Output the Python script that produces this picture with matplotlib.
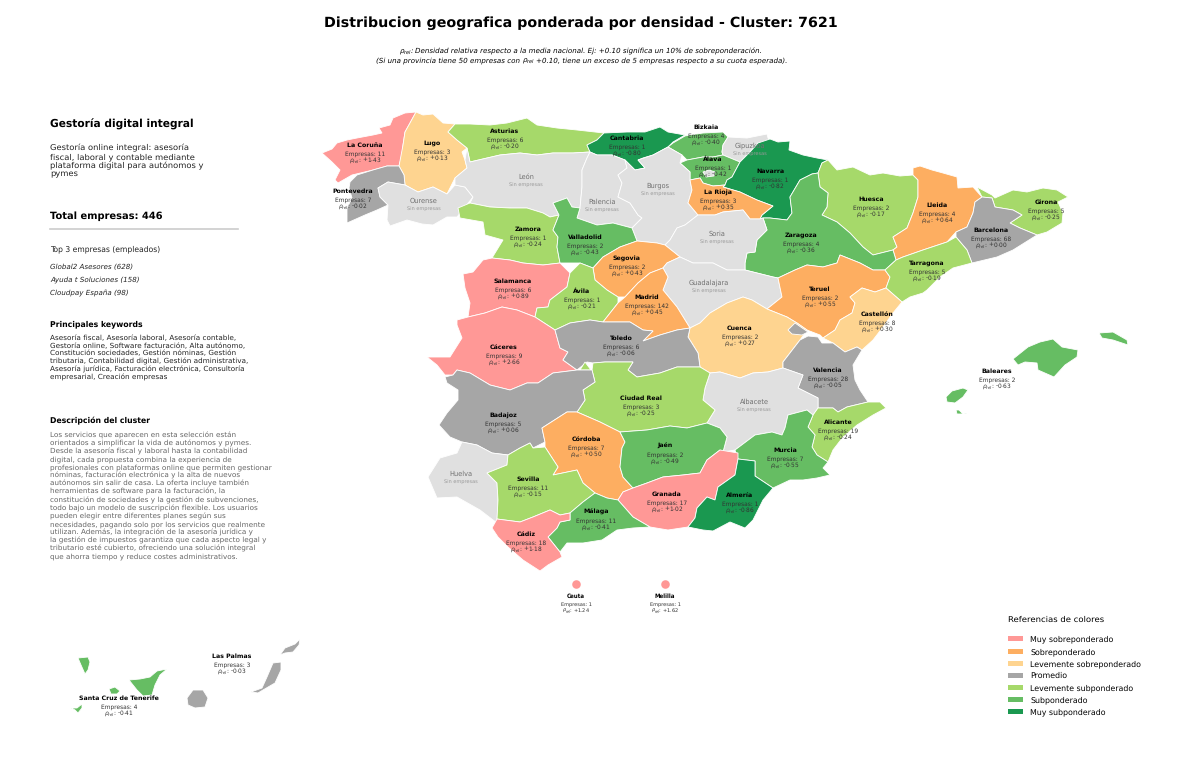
#!/usr/bin/env python3
"""Distribucion geografica ponderada por densidad, cluster 7621."""

import matplotlib
matplotlib.use('Agg')
import matplotlib.pyplot as plt
from matplotlib.patches import Patch, Polygon

plt.rcParams['text.hinting'] = 'no_hinting'

PROVINCES = ['La Coruña', 'Lugo', 'Asturias', 'Cantabria', 'Bizkaia', 'Gipuzkoa', 'Álava', 'Navarra',
             'Pontevedra', 'Ourense', 'León', 'Palencia', 'Burgos', 'La Rioja', 'Huesca', 'Lleida',
             'Girona', 'Barcelona', 'Zaragoza', 'Soria', 'Zamora', 'Valladolid', 'Segovia', 'Guadalajara',
             'Salamanca', 'Ávila', 'Madrid', 'Teruel', 'Tarragona', 'Castellón', 'Cuenca', 'Cáceres',
             'Toledo', 'Valencia', 'Baleares', 'Albacete', 'Alicante', 'Ciudad Real', 'Badajoz', 'Córdoba',
             'Jaén', 'Murcia', 'Huelva', 'Sevilla', 'Granada', 'Almería', 'Málaga', 'Cádiz',
             'Las Palmas', 'Santa Cruz de Tenerife', 'Ceuta', 'Melilla']

# None means no companies in that province
EMPRESAS = [11, 3, 6, 1, 4, None, 1, 1,
            7, None, None, None, None, 3, 2, 4,
            5, 68, 4, None, 1, 2, 2, None,
            6, 1, 142, 2, 5, 8, 2, 9,
            6, 28, 2, None, 19, 3, 5, 7,
            2, 7, None, 11, 17, 1, 11, 18,
            3, 4, 1, 1]

RHO = [1.43, 0.13, -0.20, -0.80, -0.40, None, -0.42, -0.82,
       -0.02, None, None, None, None, 0.35, -0.17, 0.64,
       -0.25, 0.00, -0.36, None, -0.24, -0.43, 0.43, None,
       0.89, -0.21, 0.45, 0.55, -0.19, 0.30, 0.27, 2.66,
       -0.06, -0.05, -0.63, None, -0.24, -0.25, 0.06, 0.50,
       -0.49, -0.55, None, -0.15, 1.02, -0.86, -0.41, 1.18,
       -0.03, -0.41, 1.24, 1.62]

CATEGORIES = ['Muy sobreponderado', 'Sobreponderado', 'Levemente sobreponderado', 'Promedio',
              'Levemente subponderado', 'Subponderado', 'Muy subponderado']
COLORS = ['#ff9896', '#fdae61', '#fed490', '#a6a6a6', '#a6d96a', '#66bd63', '#1a9850']
NO_DATA = '#e0e0e0'

# province outlines, in image pixels
OUTLINES = {
    'La Coruña': [[(322,153),(332,149),(337,143),(347,140),(357,138),(373,135),(382,133),(379,128),(390,125),(393,118),(405,113),(416,112),(410,123),(405,132),(403,145),(402,155),(399,166),(387,166),(373,170),(352,175),(338,183),(335,180),(340,170),(332,162)]],
    'Lugo': [[(416,112),(423,115),(433,114),(443,123),(455,124),(448,132),(457,140),(467,148),(462,152),(465,160),(467,168),(455,178),(447,194),(433,187),(418,192),(405,185),(404,175),(399,166),(403,145),(405,132),(410,123)]],
    'Asturias': [[(448,132),(455,124),(470,124),(490,125),(507,123),(527,118),(537,125),(557,128),(577,130),(604,133),(597,140),(587,145),(590,152),(573,153),(553,153),(537,155),(520,153),(500,155),(470,162),(467,148),(457,140)]],
    'Cantabria': [[(604,133),(627,132),(645,132),(660,127),(668,132),(685,135),(673,142),(668,147),(653,155),(643,158),(638,160),(645,168),(635,170),(625,160),(612,155),(597,155),(590,152),(587,145),(597,140)]],
    'León': [[(470,162),(500,155),(520,153),(537,155),(553,153),(573,153),(590,152),(587,158),(582,170),(582,187),(580,208),(572,207),(567,198),(553,203),(559,215),(550,217),(543,213),(527,208),(510,208),(490,207),(470,203),(473,197),(465,187),(455,185),(455,178),(467,168),(465,160),(467,148)]],
    'Ourense': [[(378,188),(388,182),(405,185),(418,192),(433,187),(447,194),(455,185),(465,187),(473,197),(465,207),(457,217),(447,217),(433,225),(422,224),(407,220),(390,226),(387,220),(388,205),(380,197)]],
    'Pontevedra': [[(350,182),(357,175),(373,170),(387,166),(399,166),(404,175),(405,185),(388,182),(378,188),(380,197),(388,205),(377,210),(365,215),(347,223),(347,208),(352,198),(349,188)]],
    'Palencia': [[(590,152),(597,155),(612,155),(625,160),(627,168),(618,175),(622,183),(618,197),(630,203),(638,215),(642,218),(632,228),(613,223),(597,225),(577,218),(580,208),(582,187),(582,170),(587,158)]],
    'Burgos': [[(625,160),(635,170),(645,168),(638,160),(653,155),(668,147),(682,155),(680,163),(690,172),(690,180),(692,190),(688,203),(698,215),(685,225),(677,228),(670,240),(665,245),(657,243),(637,241),(632,228),(642,218),(638,215),(630,203),(618,197),(622,183),(618,175),(627,168)],
               [(703,172),(709,170),(715,172),(714,176),(706,177)]],
    'Valladolid': [[(553,203),(567,198),(572,207),(580,208),(577,218),(597,225),(613,223),(632,228),(637,241),(620,247),(603,257),(593,268),(580,263),(560,263),(557,247),(558,237),(553,230),(559,215)]],
    'Zamora': [[(458,208),(470,203),(490,207),(510,208),(527,208),(543,213),(550,217),(559,215),(553,230),(558,237),(557,247),(560,263),(543,265),(523,263),(510,260),(492,258),(503,240),(485,235),(483,222),(460,218)]],
    'Salamanca': [[(463,274),(473,272),(483,260),(492,258),(510,260),(523,263),(543,265),(560,263),(570,273),(567,287),(550,300),(548,307),(537,308),(535,317),(517,310),(502,307),(485,313),(468,317),(470,303),(465,288)]],
    'Ávila': [[(570,273),(580,263),(593,268),(595,280),(607,290),(618,297),(618,303),(603,322),(590,320),(570,323),(555,330),(535,317),(537,308),(548,307),(550,300),(567,287)]],
    'Segovia': [[(593,268),(603,257),(620,247),(637,241),(657,243),(665,245),(680,257),(667,263),(663,268),(650,273),(638,283),(625,297),(618,297),(607,290),(595,280)]],
    'Madrid': [[(663,268),(668,277),(663,290),(677,307),(690,328),(677,330),(660,335),(643,341),(653,331),(643,330),(630,322),(603,322),(618,303),(625,297),(638,283),(650,273)]],
    'Guadalajara': [[(667,263),(680,257),(693,263),(713,263),(727,270),(745,270),(773,277),(778,278),(782,297),(767,309),(752,300),(743,297),(727,303),(710,313),(700,323),(690,328),(677,307),(663,290),(668,277),(663,268)]],
    'Soria': [[(698,215),(715,215),(723,212),(743,210),(750,219),(760,219),(763,218),(767,230),(757,240),(755,252),(747,253),(745,263),(745,270),(727,270),(713,263),(693,263),(680,257),(665,245),(670,240),(677,228),(685,225)]],
    'La Rioja': [[(690,180),(700,178),(703,183),(713,186),(725,185),(723,187),(740,192),(757,200),(773,206),(762,215),(760,219),(750,219),(743,210),(723,212),(715,215),(698,215),(688,203),(692,190)]],
    'Álava': [[(680,163),(687,160),(703,157),(713,157),(723,155),(740,162),(732,177),(727,180),(725,185),(713,186),(703,183),(700,178),(690,180),(690,172)]],
    'Bizkaia': [[(673,143),(685,136),(690,135),(703,133),(723,132),(728,137),(723,145),(722,152),(723,155),(713,157),(703,157),(687,160),(682,155),(668,147)]],
    'Gipuzkoa': [[(728,137),(747,138),(767,134),(768,138),(772,142),(758,143),(750,152),(740,162),(723,155),(722,152),(723,145)]],
    'Navarra': [[(758,143),(770,139),(778,142),(790,141),(789,150),(803,155),(817,158),(828,160),(822,163),(818,173),(812,174),(800,180),(790,197),(792,213),(787,220),(770,218),(763,218),(760,219),(762,215),(773,206),(757,200),(740,192),(723,187),(725,185),(727,180),(732,177),(740,162),(750,152)]],
    'Zaragoza': [[(812,174),(818,173),(820,187),(828,193),(827,207),(822,215),(837,222),(850,233),(863,247),(873,255),(893,250),(896,260),(885,270),(873,270),(860,263),(840,255),(837,263),(823,267),(807,265),(795,270),(778,278),(773,277),(745,270),(745,263),(747,253),(755,252),(757,240),(767,230),(763,218),(770,218),(787,220),(792,213),(790,197),(800,180)]],
    'Huesca': [[(828,160),(837,170),(853,167),(870,175),(883,173),(900,176),(913,175),(918,180),(918,197),(913,213),(907,228),(893,237),(897,247),(893,250),(873,255),(863,247),(850,233),(837,222),(822,215),(827,207),(828,193),(820,187),(818,173),(822,163)]],
    'Lleida': [[(913,168),(920,166),(932,170),(943,173),(957,177),(958,188),(973,187),(982,197),(975,202),(973,213),(967,227),(956,232),(947,242),(923,250),(903,257),(896,260),(893,250),(897,247),(893,237),(907,228),(913,213),(918,197),(918,180),(913,175)]],
    'Girona': [[(977,187),(992,195),(995,198),(1013,190),(1027,192),(1043,188),(1057,190),(1068,197),(1058,202),(1063,213),(1062,223),(1047,232),(1037,235),(1020,228),(1010,223),(1022,215),(1013,210),(995,207),(992,198),(982,197)]],
    'Barcelona': [[(975,202),(982,197),(992,198),(995,207),(1013,210),(1022,215),(1010,223),(1020,228),(1037,235),(1013,250),(997,257),(972,263),(967,250),(956,237),(956,232),(967,227),(973,213)]],
    'Tarragona': [[(947,242),(956,237),(967,250),(972,263),(953,268),(940,277),(927,290),(923,293),(910,297),(902,302),(886,288),(890,277),(885,270),(896,260),(903,257),(923,250)]],
    'Teruel': [[(778,278),(795,270),(807,265),(823,267),(837,263),(840,255),(860,263),(873,270),(885,270),(890,277),(886,288),(875,292),(862,288),(850,297),(855,303),(852,313),(840,320),(835,330),(823,338),(820,335),(807,330),(797,323),(787,317),(767,309),(782,297)]],
    'Castellón': [[(862,288),(875,292),(886,288),(902,302),(893,313),(883,327),(873,340),(862,350),(857,347),(845,352),(833,343),(823,338),(835,330),(840,320),(852,313),(855,303),(850,297)]],
    'Cuenca': [[(690,328),(700,323),(710,313),(727,303),(743,297),(752,300),(767,309),(787,317),(797,323),(807,330),(800,340),(783,362),(783,368),(768,372),(753,373),(740,378),(720,372),(710,373),(700,367),(698,353),(688,337)]],
    'Toledo': [[(555,330),(570,323),(590,320),(603,322),(630,322),(643,330),(653,331),(643,341),(660,335),(677,330),(690,328),(688,337),(698,353),(700,367),(677,367),(660,373),(637,377),(628,370),(633,362),(623,362),(605,362),(593,363),(587,362),(577,370),(563,360),(568,352),(560,348)]],
    'Cáceres': [[(427,357),(450,357),(462,338),(457,325),(457,320),(468,317),(485,313),(502,307),(517,310),(535,317),(555,330),(560,348),(568,352),(563,360),(577,370),(553,373),(538,383),(527,383),(510,390),(490,385),(470,373),(457,370),(453,375),(445,375),(437,365)]],
    'Badajoz': [[(445,377),(453,375),(457,370),(470,373),(490,385),(510,390),(527,383),(538,383),(553,373),(577,370),(592,370),(595,382),(583,390),(585,400),(577,412),(567,412),(542,428),(545,442),(533,448),(530,443),(520,448),(508,455),(492,453),(477,445),(462,442),(450,437),(439,425),(447,413),(458,400),(458,390),(447,383)]],
    'Ciudad Real': [[(593,363),(605,362),(623,362),(633,362),(628,370),(637,377),(660,373),(677,367),(700,367),(710,373),(705,388),(703,400),(715,410),(710,418),(707,423),(687,428),(670,426),(647,430),(620,432),(600,422),(577,412),(585,400),(583,390),(595,382),(592,370)],
                    [(580,370),(585,362),(591,370)]],
    'Albacete': [[(710,373),(720,372),(740,378),(753,373),(768,372),(783,368),(803,375),(798,388),(818,398),(818,408),(813,415),(807,410),(788,415),(785,428),(782,435),(772,432),(755,435),(735,450),(723,452),(727,437),(720,428),(707,423),(710,418),(715,410),(703,400),(705,388)]],
    'Valencia': [[(800,340),(808,336),(818,337),(822,343),(833,343),(845,352),(857,347),(862,350),(853,365),(855,380),(860,390),(868,402),(847,407),(838,412),(833,408),(818,408),(818,398),(798,388),(803,375),(783,368),(783,362)],
                 [(788,330),(795,323),(808,332),(802,335),(792,334)]],
    'Alicante': [[(818,408),(833,408),(838,412),(847,407),(868,402),(880,402),(886,408),(873,415),(857,425),(843,437),(833,450),(828,462),(817,455),(812,447),(815,435),(808,427),(813,415)]],
    'Murcia': [[(735,450),(755,435),(772,432),(782,435),(785,428),(788,415),(807,410),(813,415),(808,427),(815,435),(812,447),(817,455),(828,462),(823,468),(830,475),(817,478),(803,480),(790,480),(773,488),(755,476),(755,461),(738,459)]],
    'Almería': [[(738,459),(755,461),(755,476),(773,488),(763,500),(753,520),(745,528),(730,522),(713,531),(703,530),(688,527),(695,518),(697,508),(707,497),(715,500),(718,487),(735,475)]],
    'Granada': [[(618,500),(623,492),(633,488),(647,483),(663,477),(683,475),(700,473),(707,460),(720,450),(738,453),(738,459),(735,475),(718,487),(715,500),(707,497),(697,508),(695,518),(688,527),(668,530),(650,527),(633,517)]],
    'Jaén': [[(620,432),(647,430),(670,426),(687,428),(707,423),(720,428),(727,437),(723,452),(720,450),(707,460),(700,473),(683,475),(663,477),(647,483),(633,488),(623,477),(620,467),(622,448),(625,442)]],
    'Córdoba': [[(542,428),(567,412),(577,412),(600,422),(620,432),(625,442),(622,448),(620,467),(623,477),(633,488),(623,492),(618,500),(607,498),(595,493),(583,483),(577,470),(553,475),(558,467),(545,447),(545,442)]],
    'Sevilla': [[(487,473),(507,465),(508,455),(520,448),(530,443),(533,448),(545,447),(558,467),(553,475),(577,470),(583,483),(595,493),(583,502),(570,513),(560,515),(550,510),(533,517),(520,522),(497,519),(498,500),(497,483)]],
    'Huelva': [[(428,477),(440,458),(457,453),(462,442),(477,445),(492,453),(508,455),(507,465),(487,473),(497,483),(498,500),(497,523),(480,510),(457,497),(437,498)]],
    'Cádiz': [[(492,528),(497,519),(520,522),(533,517),(550,510),(560,515),(570,513),(570,520),(560,522),(557,528),(548,537),(560,552),(562,557),(548,565),(540,571),(523,560),(508,547),(498,537)]],
    'Málaga': [[(570,513),(583,502),(595,493),(607,498),(618,500),(633,517),(650,527),(633,528),(617,530),(602,540),(583,543),(567,543),(560,552),(548,537),(557,528),(560,522),(570,520)]],
    'Baleares': [[(1013,359),(1028,347),(1040,342),(1053,339),(1062,347),(1078,350),(1077,357),(1065,365),(1054,377),(1038,370),(1037,363),(1025,362),(1018,365)],
                 [(946,397),(952,391),(963,388),(968,390),(963,397),(955,403),(947,402)],
                 [(956,410),(959,410),(962,413),(967,414),(957,414)],
                 [(1099,333),(1113,332),(1127,340),(1128,345),(1113,340),(1102,338)]],
    'Santa Cruz de Tenerife': [[(78,658),(88,657),(90,662),(88,670),(85,674),(81,665)],
                               [(109,689),(115,687),(120,691),(117,694),(111,694)],
                               [(71,708),(77,708),(82,704),(82,708),(78,713),(75,710)],
                               [(129,680),(140,679),(150,677),(157,671),(167,669),(160,675),(155,685),(152,695),(143,696),(137,690)]],
    'Las Palmas': [[(187,698),(193,690),(203,690),(208,698),(205,707),(195,708),(188,705)],
                   [(251,692),(262,688),(267,677),(273,663),(281,662),(281,670),(275,683),(263,690),(258,693)],
                   [(280,655),(285,648),(295,644),(300,639),(299,645),(293,652),(285,653)]],
}

LABEL_POS = {
    'La Coruña': (365,145), 'Lugo': (432,143), 'Asturias': (505,131), 'Cantabria': (627,138),
    'Bizkaia': (706,127), 'Gipuzkoa': (750,146), 'Álava': (713,159), 'Navarra': (770,171),
    'Pontevedra': (353,191), 'Ourense': (424,201), 'León': (526,177), 'Palencia': (602,202),
    'Burgos': (658,186), 'La Rioja': (718,192), 'Huesca': (871,199), 'Lleida': (937,205),
    'Girona': (1046,202), 'Barcelona': (991,230), 'Zaragoza': (801,235), 'Soria': (717,234),
    'Zamora': (528,229), 'Valladolid': (585,237), 'Segovia': (627,258), 'Guadalajara': (709,283),
    'Salamanca': (513,281), 'Ávila': (582,291), 'Madrid': (647,297), 'Teruel': (820,289),
    'Tarragona': (927,263), 'Castellón': (877,314), 'Cuenca': (740,328), 'Cáceres': (504,347),
    'Toledo': (621,338), 'Valencia': (828,370), 'Baleares': (997,371), 'Albacete': (754,402),
    'Alicante': (838,422), 'Ciudad Real': (641,398), 'Badajoz': (503,415), 'Córdoba': (586,439),
    'Jaén': (665,446), 'Murcia': (785,450), 'Huelva': (461,474), 'Sevilla': (528,479),
    'Granada': (667,494), 'Almería': (740,495), 'Málaga': (596,512), 'Cádiz': (526,534),
    'Las Palmas': (232,656), 'Santa Cruz de Tenerife': (119,698), 'Ceuta': (576,596), 'Melilla': (665,596),
}
CITY_DOTS = {'Ceuta': (576,584), 'Melilla': (665,584)}

# subtitle pieces: mathtext jitters at this size, so only the symbol goes through it
RHO_SYMBOL = '$\\rho_{rel}$'
SUBTITLE_1 = 'Densidad relativa respecto a la media nacional. Ej: +0.10 significa un 10% de sobreponderación.'
SUBTITLE_2A = '(Si una provincia tiene 50 empresas con'
SUBTITLE_2B = '+0.10, tiene un exceso de 5 empresas respecto a su cuota esperada).'
DESCRIPTION = ('Gestoría online integral: asesoría\nfiscal, laboral y contable mediante\n'
               'plataforma digital para autónomos y\npymes')
TOP_COMPANIES = ['Global2 Asesores (628)', 'Ayuda t Soluciones (158)', 'Cloudpay España (98)']
KEYWORDS = ('Asesoría fiscal, Asesoría laboral, Asesoría contable,\n'
            'Gestoría online, Software facturación, Alta autónomo,\n'
            'Constitución sociedades, Gestión nóminas, Gestión\n'
            'tributaria, Contabilidad digital, Gestión administrativa,\n'
            'Asesoría jurídica, Facturación electrónica, Consultoría\n'
            'empresarial, Creación empresas')
CLUSTER_TEXT = ('Los servicios que aparecen en esta selección están\n'
                'orientados a simplificar la vida de autónomos y pymes.\n'
                'Desde la asesoría fiscal y laboral hasta la contabilidad\n'
                'digital, cada propuesta combina la experiencia de\n'
                'profesionales con plataformas online que permiten gestionar\n'
                'nóminas, facturación electrónica y la alta de nuevos\n'
                'autónomos sin salir de casa. La oferta incluye también\n'
                'herramientas de software para la facturación, la\n'
                'constitución de sociedades y la gestión de subvenciones,\n'
                'todo bajo un modelo de suscripción flexible. Los usuarios\n'
                'pueden elegir entre diferentes planes según sus\n'
                'necesidades, pagando solo por los servicios que realmente\n'
                'utilizan. Además, la integración de la asesoría jurídica y\n'
                'la gestión de impuestos garantiza que cada aspecto legal y\n'
                'tributario esté cubierto, ofreciendo una solución integral\n'
                'que ahorra tiempo y reduce costes administrativos.')


def category_color(rho):
    if rho is None:
        return NO_DATA
    if rho >= 0.75:
        return COLORS[0]
    if rho >= 0.35:
        return COLORS[1]
    if rho > 0.10:
        return COLORS[2]
    if rho >= -0.10:
        return COLORS[3]
    if rho >= -0.30:
        return COLORS[4]
    if rho >= -0.75:
        return COLORS[5]
    return COLORS[6]


def draw_label(ax, name, n, rho, small=False):
    x, y = LABEL_POS[name]
    name_size, body_size = (4.0, 3.6) if small else (4.5, 4.25)
    if n is None:
        ax.text(x, y, name, fontsize=4.8, color='#707070', ha='center', va='center')
        ax.text(x, y + 7.5, 'Sin empresas', fontsize=3.6, color='#999999', ha='center', va='center')
        return
    ax.text(x, y, name, fontsize=name_size, fontweight='bold', color='black', ha='center', va='center')
    ax.text(x, y + 9, f'Empresas: {n}', fontsize=body_size, color='#333333', ha='center', va='center')
    ax.text(x, y + 15, f'$\\rho_{{rel}}$: {rho:+.2f}', fontsize=body_size, color='#333333',
            ha='center', va='center')


def draw_subtitle(ax):
    size = 5.15
    ax.text(399, 54, RHO_SYMBOL + ':', fontsize=size, style='italic', va='baseline')
    ax.text(415, 54, SUBTITLE_1, fontsize=size, style='italic', va='baseline')
    ax.text(376, 63, SUBTITLE_2A, fontsize=size, style='italic', va='baseline')
    ax.text(522, 63, RHO_SYMBOL, fontsize=size, style='italic', va='baseline')
    ax.text(536, 63, SUBTITLE_2B, fontsize=size, style='italic', va='baseline')


def draw_panel(ax):
    ax.text(50, 124, 'Gestoría digital integral', fontsize=7.7, fontweight='bold', va='center')
    ax.text(50, 161, DESCRIPTION, fontsize=6.05, color='#222222', va='center', linespacing=1.15)
    ax.text(50, 216, 'Total empresas: 446', fontsize=7.1, fontweight='bold', va='center')
    ax.plot([50, 238], [229, 229], color='#cccccc', linewidth=1.2)
    ax.text(50, 249, 'Top 3 empresas (empleados)', fontsize=5.5, color='#222222', va='center')
    for y, company in zip([267, 280, 293], TOP_COMPANIES):
        ax.text(50, y, company, fontsize=5.1, style='italic', color='#222222', va='center')
    ax.text(50, 324, 'Principales keywords', fontsize=5.6, fontweight='bold', va='center')
    ax.text(50, 358, KEYWORDS, fontsize=5.25, color='#222222', va='center', linespacing=1.17)
    ax.text(50, 421, 'Descripción del cluster', fontsize=5.6, fontweight='bold', va='center')
    ax.text(50, 496, CLUSTER_TEXT, fontsize=5.2, color='#666666', va='center', linespacing=1.2)


def main():
    fig = plt.figure(figsize=(12, 7.61), dpi=100)
    ax = fig.add_axes([0, 0, 1, 1])
    ax.set_xlim(0, 1200)
    ax.set_ylim(761, 0)
    ax.axis('off')

    for name, rho in zip(PROVINCES, RHO):
        for part in OUTLINES.get(name, []):
            ax.add_patch(Polygon(part, closed=True, facecolor=category_color(rho),
                                 edgecolor='white', linewidth=0.6))
    for name, (x, y) in CITY_DOTS.items():
        ax.scatter([x], [y], s=38, color=category_color(RHO[PROVINCES.index(name)]), linewidths=0)

    for name, n, rho in zip(PROVINCES, EMPRESAS, RHO):
        draw_label(ax, name, n, rho, small=name in CITY_DOTS)

    ax.text(581, 23, 'Distribucion geografica ponderada por densidad - Cluster: 7621',
            fontsize=10.3, fontweight='bold', ha='center', va='center')
    draw_subtitle(ax)
    draw_panel(ax)

    handles = [Patch(facecolor=c, edgecolor='none', label=l) for c, l in zip(COLORS, CATEGORIES)]
    legend = ax.legend(handles=handles, loc='upper left', bbox_to_anchor=(1001 / 1200, 1 - 609 / 761),
                       frameon=False, fontsize=5.7, title='Referencias de colores', title_fontsize=6.1,
                       labelspacing=0.55, handlelength=1.9, handleheight=0.6, handletextpad=0.9)
    legend._legend_box.align = 'left'
    legend._legend_box.sep = 8.5

    fig.savefig('out.png', dpi=100)


if __name__ == '__main__':
    main()
